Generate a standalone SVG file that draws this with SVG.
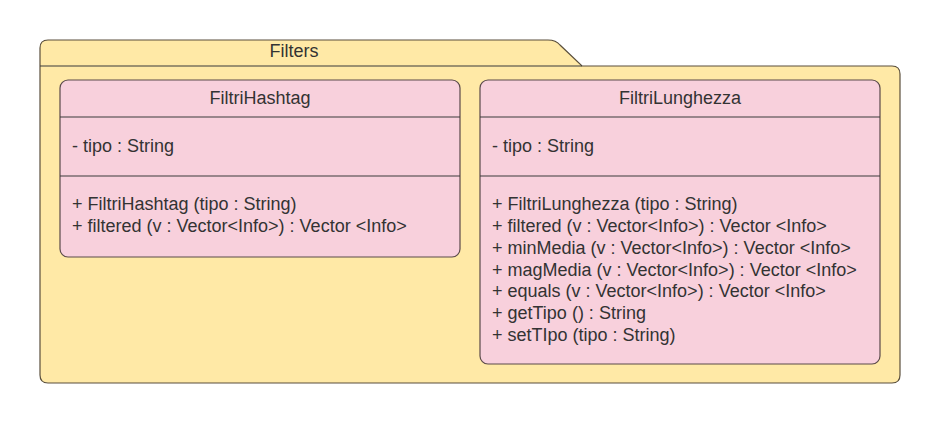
<svg xmlns="http://www.w3.org/2000/svg" width="940" height="423" viewBox="0 0 940 423">
<style>
.pkg{fill:#FFE9A6;stroke:#5a4f3c;stroke-width:1.2}
.cls{fill:#F8D0DC;stroke:#5a4a4a;stroke-width:1.2}
.sep{stroke:#3a3a3a;stroke-width:1.2;fill:none}
text{font-family:"Liberation Sans",Arial,sans-serif;font-size:18px;fill:#333333}
.c{text-anchor:middle}
</style>
<rect width="940" height="423" fill="#ffffff"/>
<g id="Filters">
<path class="pkg" d="M40,48 Q40,40 48,40 L548,40 Q556,40 560,45 L582,66 L892,66 Q900,66 900,74 L900,375 Q900,383 892,383 L48,383 Q40,383 40,375 Z"/>
<line class="sep" x1="40" y1="66" x2="582" y2="66"/>
<text class="c" x="294" y="57">Filters</text>
</g>
<g id="FiltriHashtag">
<rect class="cls" x="60" y="80" width="400" height="177" rx="8"/>
<line class="sep" x1="60" y1="117" x2="460" y2="117"/>
<line class="sep" x1="60" y1="176" x2="460" y2="176"/>
<text class="c" x="260" y="104">FiltriHashtag</text>
<text x="72" y="152">- tipo : String</text>
<text x="72" y="210">+ FiltriHashtag (tipo : String)</text>
<text x="72" y="232">+ filtered (v : Vector&lt;Info&gt;) : Vector &lt;Info&gt;</text>
</g>
<g id="FiltriLunghezza">
<rect class="cls" x="480" y="80" width="400" height="284" rx="8"/>
<line class="sep" x1="480" y1="117" x2="880" y2="117"/>
<line class="sep" x1="480" y1="176" x2="880" y2="176"/>
<text class="c" x="680" y="104">FiltriLunghezza</text>
<text x="492" y="152">- tipo : String</text>
<text x="492" y="210">+ FiltriLunghezza (tipo : String)</text>
<text x="492" y="232">+ filtered (v : Vector&lt;Info&gt;) : Vector &lt;Info&gt;</text>
<text x="492" y="254">+ minMedia (v : Vector&lt;Info&gt;) : Vector &lt;Info&gt;</text>
<text x="492" y="276">+ magMedia (v : Vector&lt;Info&gt;) : Vector &lt;Info&gt;</text>
<text x="492" y="297">+ equals (v : Vector&lt;Info&gt;) : Vector &lt;Info&gt;</text>
<text x="492" y="319">+ getTipo () : String</text>
<text x="492" y="341">+ setTIpo (tipo : String)</text>
</g>
<g id="connectors"></g>
</svg>
